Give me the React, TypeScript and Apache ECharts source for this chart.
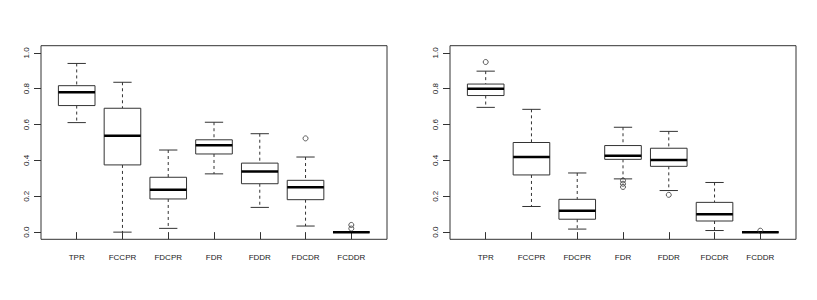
import React, { useEffect, useRef } from "react";
import * as echarts from "echarts";

const categories = ["TPR", "FCCPR", "FDCPR", "FDR", "FDDR", "FDCDR", "FCDDR"];

// [low whisker, Q1, median, Q3, high whisker] per category
const leftStats = [
  [0.611, 0.706, 0.781, 0.817, 0.941],
  [0.0, 0.375, 0.538, 0.691, 0.836],
  [0.021, 0.185, 0.236, 0.306, 0.458],
  [0.325, 0.436, 0.485, 0.515, 0.613],
  [0.138, 0.27, 0.338, 0.385, 0.549],
  [0.034, 0.181, 0.251, 0.289, 0.419],
  [0.0, 0.0, 0.0, 0.0, 0.0],
];
// [category index (0-based), value]
const leftOutliers = [
  [5, 0.523],
  [6, 0.04],
  [6, 0.02],
];

const rightStats = [
  [0.696, 0.762, 0.8, 0.826, 0.898],
  [0.143, 0.319, 0.419, 0.5, 0.685],
  [0.017, 0.072, 0.119, 0.183, 0.33],
  [0.297, 0.406, 0.426, 0.483, 0.585],
  [0.232, 0.367, 0.402, 0.468, 0.562],
  [0.009, 0.062, 0.1, 0.166, 0.277],
  [0.0, 0.0, 0.0, 0.0, 0.0],
];
const rightOutliers = [
  [0, 0.949],
  [3, 0.288],
  [3, 0.27],
  [3, 0.252],
  [4, 0.208],
  [6, 0.008],
];

const yTicks = [0, 0.2, 0.4, 0.6, 0.8, 1.0];
const xTicks = [1, 2, 3, 4, 5, 6, 7];

const FONT = "'Liberation Sans', Arial, Helvetica, sans-serif";
const INK = "#333";
const TEXT = "#1a1a1a";

function renderBox(params: any, api: any) {
  const x = api.value(0);
  const low = api.value(1);
  const q1 = api.value(2);
  const med = api.value(3);
  const q3 = api.value(4);
  const high = api.value(5);
  const hw = 0.4;
  const sw = 0.2;
  const c = (a: number, b: number) => api.coord([a, b]);
  const pTopL = c(x - hw, q3);
  const pBotR = c(x + hw, q1);
  const pMedL = c(x - hw, med);
  const pMedR = c(x + hw, med);
  const pHigh = c(x, high);
  const pQ3 = c(x, q3);
  const pQ1 = c(x, q1);
  const pLow = c(x, low);
  const sHighL = c(x - sw, high);
  const sHighR = c(x + sw, high);
  const sLowL = c(x - sw, low);
  const sLowR = c(x + sw, low);
  const lineStyle = { stroke: INK, lineWidth: 1, fill: null };
  const dash = { stroke: INK, lineWidth: 1, lineDash: [3, 3], fill: null };
  return {
    type: "group",
    children: [
      { type: "line", shape: { x1: pHigh[0], y1: pHigh[1], x2: pQ3[0], y2: pQ3[1] }, style: dash },
      { type: "line", shape: { x1: pQ1[0], y1: pQ1[1], x2: pLow[0], y2: pLow[1] }, style: dash },
      { type: "line", shape: { x1: sHighL[0], y1: sHighL[1], x2: sHighR[0], y2: sHighR[1] }, style: lineStyle },
      { type: "line", shape: { x1: sLowL[0], y1: sLowL[1], x2: sLowR[0], y2: sLowR[1] }, style: lineStyle },
      {
        type: "rect",
        shape: { x: pTopL[0], y: pTopL[1], width: pBotR[0] - pTopL[0], height: pBotR[1] - pTopL[1] },
        style: { stroke: INK, lineWidth: 1, fill: "#fff" },
      },
      {
        type: "line",
        shape: { x1: pMedL[0], y1: pMedL[1], x2: pMedR[0], y2: pMedR[1] },
        style: { stroke: "#000", lineWidth: 2.5, fill: null },
      },
    ],
  };
}

function boxData(stats: number[][]) {
  return stats.map((s, i) => [i + 1, ...s]);
}
function outlierData(o: number[][]) {
  return o.map(([i, v]) => [i + 1, v]);
}

export default function App() {
  const ref = useRef<HTMLDivElement>(null);
  useEffect(() => {
    if (!ref.current) return;
    const chart = echarts.init(ref.current, undefined, { renderer: "svg" });
    const grids = [
      { left: 41, top: 45.7, width: 346, height: 193.6 },
      { left: 450, top: 45.7, width: 346, height: 193.6 },
    ];
    const mkX = (gi: number) => ({
      type: "value",
      gridIndex: gi,
      min: 0.22,
      max: 7.78,
      splitLine: { show: false },
      axisLine: { show: false },
      axisTick: { show: true, length: 7, customValues: xTicks, lineStyle: { color: INK } },
      axisLabel: {
        customValues: xTicks,
        formatter: (v: number) => categories[Math.round(v) - 1] ?? "",
        fontFamily: FONT,
        fontSize: 8,
        color: TEXT,
        margin: 14,
      },
    });
    const mkY = (gi: number) => ({
      type: "value",
      gridIndex: gi,
      min: -0.04,
      max: 1.04,
      splitLine: { show: false },
      axisLine: { show: false },
      axisTick: { show: true, length: 7, customValues: yTicks, lineStyle: { color: INK } },
      axisLabel: {
        customValues: yTicks,
        formatter: (v: number) => v.toFixed(1),
        rotate: 90,
        fontFamily: FONT,
        fontSize: 8,
        color: TEXT,
        margin: 11,
      },
    });
    const boxSeries = (gi: number, stats: number[][]) => ({
      type: "custom",
      xAxisIndex: gi,
      yAxisIndex: gi,
      renderItem: renderBox,
      encode: { x: 0, y: [1, 2, 3, 4, 5] },
      data: boxData(stats),
      z: 2,
    });
    const outSeries = (gi: number, o: number[][]) => ({
      type: "scatter",
      xAxisIndex: gi,
      yAxisIndex: gi,
      symbol: "circle",
      symbolSize: 5,
      itemStyle: { color: "rgba(0,0,0,0)", borderColor: INK, borderWidth: 1 },
      data: outlierData(o),
      z: 3,
    });
    chart.setOption({
      animation: false,
      backgroundColor: "#fff",
      grid: grids.map((g) => ({ ...g, show: true, borderColor: INK, borderWidth: 1, backgroundColor: "transparent" })),
      xAxis: [mkX(0), mkX(1)],
      yAxis: [mkY(0), mkY(1)],
      series: [
        boxSeries(0, leftStats),
        outSeries(0, leftOutliers),
        boxSeries(1, rightStats),
        outSeries(1, rightOutliers),
      ],
    });
    return () => chart.dispose();
  }, []);
  return (
    <div
      ref={ref}
      style={{ position: "absolute", left: 0, top: 0, width: 817, height: 300, background: "#fff" }}
    />
  );
}
